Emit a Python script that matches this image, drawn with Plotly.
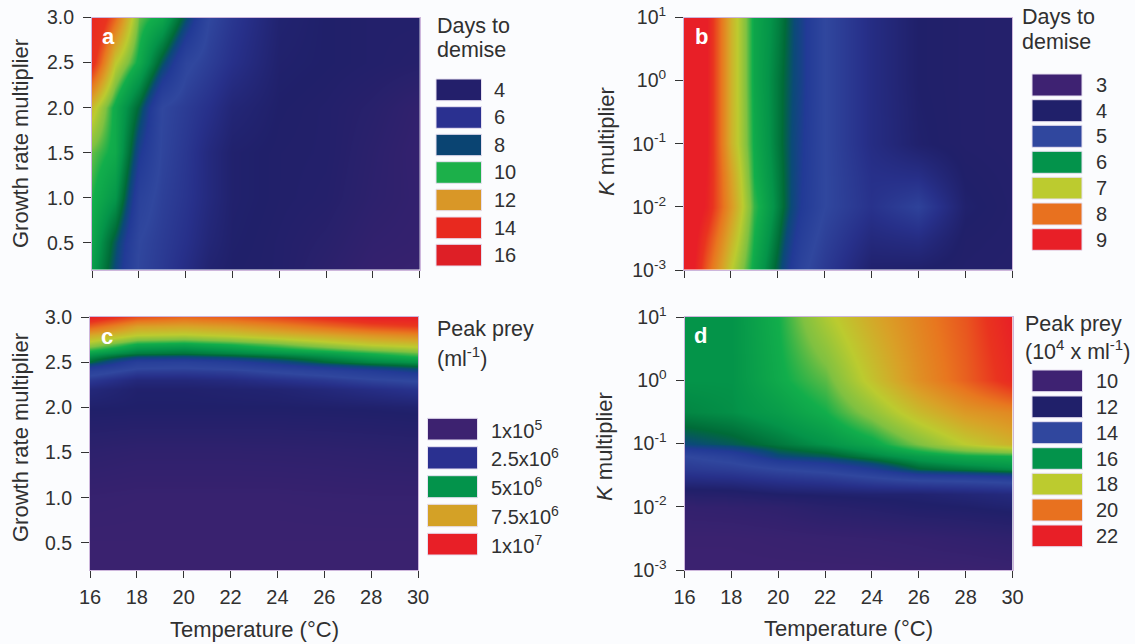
import numpy as np
import plotly.graph_objects as go

W, H = 1135, 644

temps_fine = [16, 17, 18, 19, 20, 21, 22, 24, 26, 28, 30]
temps = [16, 18, 20, 22, 24, 26, 28, 30]

growth_a = [0.2, 0.5, 1.0, 1.5, 2.0, 2.5, 3.0]
days_a = [
    [9.5, 7.7, 5.9, 5.4, 4.8, 4.2, 4.0, 3.9, 3.6, 3.3, 3.2],
    [9.8, 8.0, 6.0, 5.5, 5.0, 4.4, 4.05, 3.9, 3.7, 3.4, 3.3],
    [10.2, 9.3, 6.5, 5.7, 5.2, 4.6, 4.1, 3.95, 3.85, 3.55, 3.35],
    [10.5, 10.0, 7.3, 5.9, 5.3, 4.6, 4.1, 3.95, 3.9, 3.6, 3.3],
    [11.5, 10.0, 8.2, 6.0, 5.5, 5.0, 4.4, 4.0, 3.9, 3.7, 3.4],
    [14.0, 11.3, 10.0, 8.0, 6.2, 5.6, 5.0, 4.1, 4.0, 3.9, 3.8],
    [15.0, 13.0, 10.5, 9.9, 7.9, 6.0, 5.3, 4.2, 4.0, 3.9, 3.9],
]

k_b = [1e-3, 3.16e-3, 1e-2, 3.16e-2, 1e-1, 1e0, 1e1]
days_b = [
    [9.6, 8.2, 7.0, 6.2, 5.7, 5.1, 4.7, 4.05, 4.0, 3.9, 3.85],
    [9.6, 8.5, 7.3, 6.3, 5.8, 5.25, 4.85, 4.3, 4.4, 3.95, 3.88],
    [9.6, 8.9, 7.6, 6.4, 5.9, 5.4, 5.0, 4.55, 4.9, 4.05, 3.9],
    [9.6, 8.95, 7.5, 6.3, 5.88, 5.43, 5.0, 4.5, 4.45, 3.98, 3.88],
    [9.6, 9.0, 7.3, 6.25, 5.85, 5.45, 5.0, 4.4, 4.05, 3.9, 3.85],
    [9.6, 9.0, 7.3, 6.2, 5.85, 5.5, 5.0, 4.4, 4.0, 3.9, 3.85],
    [9.6, 9.0, 7.3, 6.2, 5.9, 5.5, 5.0, 4.4, 4.0, 3.9, 3.85],
]

growth_c = [0.2, 0.5, 1.0, 1.5, 2.0, 2.2, 2.3, 2.4, 2.5, 2.6, 2.7, 2.8, 2.9, 3.0]
prey_c = [  # 10^6 per ml; one inner list per temperature
    [.15, .15, .30, .70, 1.33, 1.6, 2.1, 2.9, 4.4, 5.2, 6.2, 7.2, 8.6, 10.0],
    [.15, .15, .25, .60, 1.30, 1.35, 1.6, 2.25, 3.1, 4.7, 5.4, 6.5, 7.4, 8.8],
    [.15, .15, .25, .60, 1.30, 1.35, 1.6, 2.2, 3.0, 4.6, 5.3, 6.4, 7.3, 8.4],
    [.15, .15, .25, .60, 1.30, 1.4, 1.7, 2.3, 3.3, 4.8, 5.5, 6.6, 7.5, 8.6],
    [.15, .15, .25, .62, 1.30, 1.45, 1.9, 2.6, 3.8, 5.0, 5.8, 6.9, 7.9, 9.0],
    [.15, .15, .28, .65, 1.32, 1.6, 2.1, 2.9, 4.4, 5.2, 6.2, 7.2, 8.4, 9.5],
    [.15, .15, .30, .70, 1.35, 1.8, 2.4, 3.3, 4.8, 5.5, 6.6, 7.6, 8.9, 10.0],
    [.15, .15, .30, .75, 1.40, 2.0, 2.6, 3.8, 5.0, 5.8, 6.8, 7.9, 9.2, 10.0],
]

k_d = [1e-3, 3.16e-3, 1e-2, 1.58e-2, 2.51e-2, 3.98e-2, 6.31e-2, 1e-1, 3.16e-1, 1e0, 1e1]
prey_d = [
    [10.1, 10.1, 10.1, 10.1, 10.1, 10.2, 10.2, 10.3],
    [10.2, 10.2, 10.3, 10.4, 10.5, 10.6, 10.8, 11.0],
    [10.7, 10.8, 11.0, 11.4, 11.6, 11.9, 12.0, 12.2],
    [11.6, 11.7, 12.0, 12.1, 12.2, 12.2, 12.4, 12.6],
    [12.6, 12.7, 13.0, 13.2, 13.6, 13.9, 14.0, 14.2],
    [13.4, 13.6, 14.0, 14.3, 14.8, 15.5, 15.7, 15.9],
    [14.0, 14.4, 15.2, 15.4, 15.8, 16.2, 16.5, 16.6],
    [15.2, 15.4, 15.7, 16.0, 16.4, 17.2, 18.0, 18.6],
    [15.85, 15.95, 16.2, 16.6, 17.4, 18.4, 19.2, 19.6],
    [16.0, 16.0, 16.5, 17.0, 18.2, 19.4, 20.4, 21.6],
    [16.0, 16.0, 16.6, 17.8, 18.8, 19.7, 20.6, 22.0],
]

legend_a = ["4", "6", "8", "10", "12", "14", "16"]
legend_b = ["3", "4", "5", "6", "7", "8", "9"]
legend_c = ["1x10<sup>5</sup>", "2.5x10<sup>6</sup>", "5x10<sup>6</sup>", "7.5x10<sup>6</sup>", "1x10<sup>7</sup>"]
legend_d = ["10", "12", "14", "16", "18", "20", "22"]
x_ticks = [16, 18, 20, 22, 24, 26, 28, 30]
growth_ticks = [0.5, 1.0, 1.5, 2.0, 2.5, 3.0]
k_ticks = [1e-3, 1e-2, 1e-1, 1e0, 1e1]
k_tick_text = ["10<sup>-3</sup>", "10<sup>-2</sup>", "10<sup>-1</sup>", "10<sup>0</sup>", "10<sup>1</sup>"]

ramp = [(0, "#3d2270"), (1, "#20206a"), (1.5, "#27308a"), (2, "#30479e"), (2.4, "#223a96"),
        (2.62, "#0b4a78"), (2.78, "#006b38"), (3, "#049449"), (3.3, "#12ae4b"), (3.6, "#7fc141"),
        (4, "#bccb2f"), (4.5, "#d9a127"), (5, "#e8771f"), (5.6, "#e9341f"), (6, "#e81f27")]


def scale(levels, values):
    lo, hi = values[0], values[-1]
    zs = np.interp([r[0] for r in ramp], levels, values)
    return [[float((z - lo) / (hi - lo)), r[1]] for z, r in zip(zs, ramp)], lo, hi


scale_a = scale([0, 1, 2, 2.7, 3.2, 4.5, 5.8, 6], [3, 4, 6, 8, 10, 12, 14, 16])
scale_b = scale([0, 6], [3, 9])
scale_c = scale([0, 1, 2, 3, 4, 5, 6], [0, 1.3, 2.5, 5, 6.5, 8.2, 10])
scale_d = scale([0, 6], [10, 22])


def dom_x(a, b):
    return [a / W, b / W]


def dom_y(top, bottom):
    return [1 - bottom / H, 1 - top / H]


fig = go.Figure()
panels = [
    ("", temps_fine, growth_a, days_a, scale_a, (92, 419.6, 17.5, 270)),
    ("2", temps_fine, k_b, days_b, scale_b, (684, 1012, 17.5, 270)),
    ("3", temps, growth_c, np.array(prey_c).T.tolist(), scale_c, (90, 418, 317, 570)),
    ("4", temps, k_d, prey_d, scale_d, (684.5, 1012.5, 317, 570)),
]
TXT = "#303030"
FONT = "Liberation Sans"
layout = {}
for sfx, xs, ys, zs, (cs, lo, hi), (l, r, t, b) in panels:
    fig.add_trace(go.Heatmap(x=xs, y=ys, z=zs, colorscale=cs, zmin=lo, zmax=hi, zsmooth="best",
                             showscale=False, xaxis="x" + sfx, yaxis="y" + sfx))
    logy = sfx in ("2", "4")
    bottom_row = sfx in ("3", "4")
    layout["xaxis" + sfx] = dict(
        domain=dom_x(l, r), range=[16, 30], anchor="y" + sfx, tickmode="array", tickvals=x_ticks,
        ticks="outside", ticklen=7, tickwidth=1.2, tickcolor="#333", automargin=False,
        ticklabelstandoff=2,
        showticklabels=bottom_row, tickfont=dict(size=20, color=TXT, family=FONT),
        showline=True, mirror=True, linecolor="#cdb6dc", linewidth=1, showgrid=False, zeroline=False)
    layout["yaxis" + sfx] = dict(
        domain=dom_y(t, b), anchor="x" + sfx, ticks="outside", ticklen=8, tickwidth=1.2, tickcolor="#333",
        automargin=False, type="log" if logy else "linear", range=[-3, 1] if logy else [0.2, 3.0],
        tickmode="array", tickvals=k_ticks if logy else growth_ticks,
        ticktext=k_tick_text if logy else [f"{v:.1f}" for v in growth_ticks],
        ticklabelstandoff=5,
        tickfont=dict(size=19.5, color=TXT, family=FONT),
        showline=True, mirror=True, linecolor="#cdb6dc", linewidth=1, showgrid=False, zeroline=False)

shapes, notes = [], []


def text(x, y, s, size=20, color=TXT, bold=False, anchor="left", angle=0):
    notes.append(dict(x=x / W, y=1 - y / H, xref="paper", yref="paper", text=f"<b>{s}</b>" if bold else s,
                      showarrow=False, xanchor=anchor, yanchor="middle", align="left", textangle=angle,
                      font=dict(size=size, color=color, family=FONT)))


def swatches(x0, x1, rows, colors, labels, lx):
    for (t, b), c, s in zip(rows, colors, labels):
        shapes.append(dict(type="rect", xref="paper", yref="paper", x0=x0 / W, x1=x1 / W,
                           y0=1 - b / H, y1=1 - t / H, fillcolor=c, line=dict(color="#e6dff0", width=1)))
        text(lx, (t + b) / 2, s)


swatches(436, 481.5, [(79, 100.7), (106.7, 128.3), (134.3, 155.7), (161.7, 183.3), (189.3, 210.7), (217, 238.7), (244.3, 266)],
         ["#231f6b", "#2a3090", "#0a4472", "#1cb04a", "#d99727", "#e8291f", "#de1f26"], legend_a, 491.5)
swatches(1032, 1082, [(74, 96), (99.7, 121.7), (125.3, 147.3), (151.3, 173.3), (177.3, 199), (203, 225), (228.7, 250.3)],
         ["#3e2272", "#20206a", "#30479e", "#03934b", "#bccb2f", "#e8711f", "#e81f27"], legend_b, 1093.5)
swatches(427.5, 477.5, [(418.3, 440), (446.7, 469), (475.7, 497.7), (504.3, 526.7), (533.3, 555)],
         ["#3d2270", "#2a3090", "#03934b", "#d4a126", "#e81f27"], legend_c, 488.5)
swatches(1032, 1082.5, [(370, 391.7), (396, 417.7), (421.7, 443.7), (447.7, 469.3), (473.3, 495), (499, 521), (525, 546.7)],
         ["#3e2272", "#20206a", "#30479e", "#03934b", "#bccb2f", "#e8711f", "#e81f27"], legend_d, 1093.5)

text(434.5, 26, "Days to", 21.5)
text(434.5, 50, "demise", 21.5)
text(1019.5, 17, "Days to", 21.5)
text(1019.5, 42, "demise", 21.5)
text(435, 329, "Peak prey", 21.5)
text(435, 357, "(ml<sup>-1</sup>)", 21.5)
text(1022.5, 324, "Peak prey", 21.5)
text(1022.5, 350, "(10<sup>4</sup> x ml<sup>-1</sup>)", 21.5)
text(108, 37, "a", 22, "white", True, "center")
text(701, 36, "b", 22, "white", True, "center")
text(107, 336, "c", 22, "white", True, "center")
text(700, 335, "d", 22, "white", True, "center")
text(20, 144, "Growth rate multiplier", 22, anchor="center", angle=-90)
text(20, 438, "Growth rate multiplier", 22, anchor="center", angle=-90)
text(606, 142, "<i>K</i> multiplier", 22, anchor="center", angle=-90)
text(604, 447, "<i>K</i> multiplier", 22, anchor="center", angle=-90)
text(254, 629, "Temperature (°C)", 22, anchor="center")
text(848, 628, "Temperature (°C)", 22, anchor="center")

fig.update_layout(width=W, height=H, margin=dict(l=0, r=0, t=0, b=0), paper_bgcolor="#fbfcfe",
                  plot_bgcolor="#fbfcfe", showlegend=False, shapes=shapes, annotations=notes, **layout)
fig.write_html("out.html", config={"displayModeBar": False},
               post_script="document.body.style.margin='0';document.documentElement.style.background='#fbfcfe';")
